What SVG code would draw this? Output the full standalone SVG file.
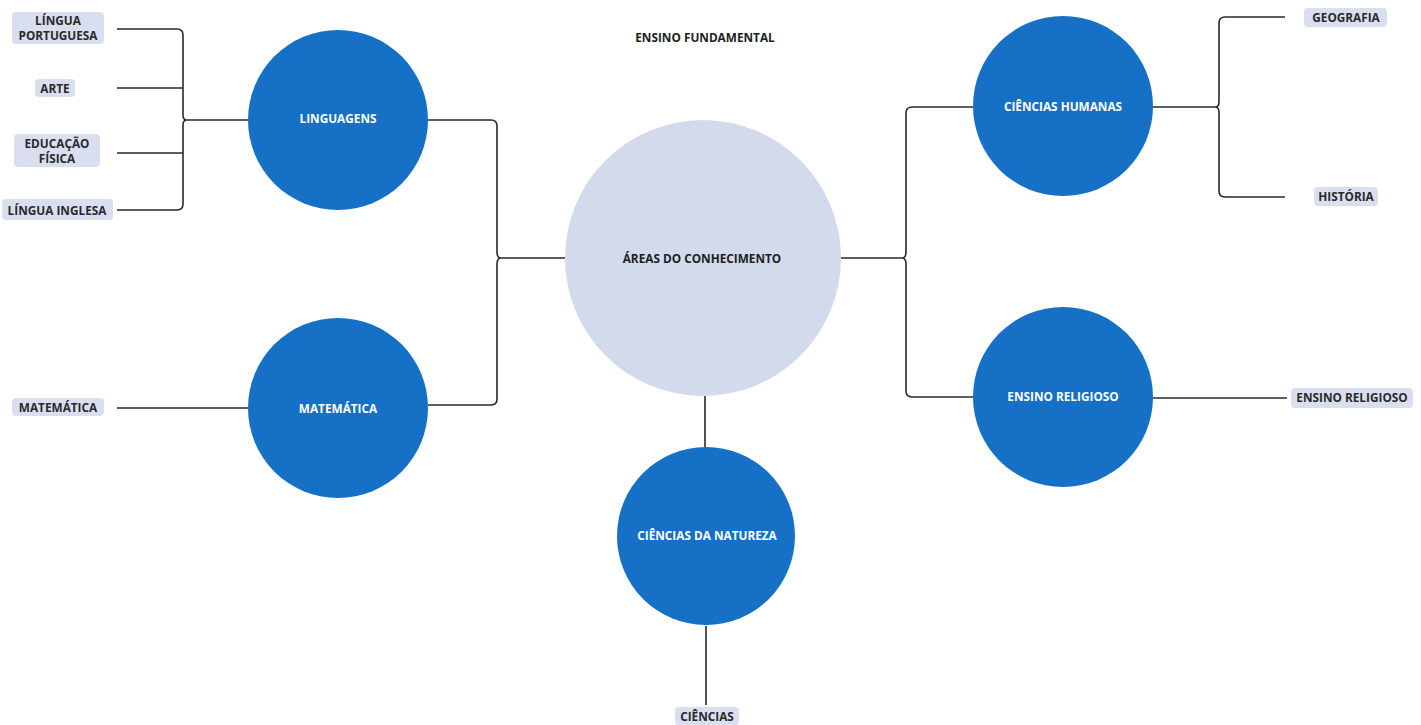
<svg xmlns="http://www.w3.org/2000/svg" width="1421" height="725" viewBox="0 0 1421 725">
<style>
.big{fill:#1570c6}
.ctr{fill:#d3daeb}
.ct{font-family:"Open Sans","Liberation Sans",sans-serif;font-weight:700;font-size:11.8px;fill:#ffffff;text-anchor:middle;dominant-baseline:central}
.cd{font-family:"Open Sans","Liberation Sans",sans-serif;font-weight:700;font-size:11.8px;fill:#1e1e1e;text-anchor:middle;dominant-baseline:central}
.lb{fill:#dadff0}
.lt{font-family:"Open Sans","Liberation Sans",sans-serif;font-weight:700;font-size:11.8px;fill:#2a2a2a;text-anchor:middle;dominant-baseline:central}
.ln{fill:none;stroke:#2a2a2a;stroke-width:1.6}
</style>
<rect width="1421" height="725" fill="#ffffff"/>
<g id="connectors">
<path class="ln" d="M565 258 H501 M428 120 H491 Q497 120 497 126 V252 Q497 258 501 258 Q497 258 497 264 V399 Q497 405 491 405 H428"/>
<path class="ln" d="M841 258 H902 Q906 258 906 252 V113 Q906 107 912 107 H973 M902 258 Q906 258 906 264 V391 Q906 397 912 397 H973"/>
<path class="ln" d="M248 120 H187 M117 29 H177 Q183 29 183 35 V115 Q183 120 187 120 Q183 120 183 125 V204 Q183 210 177 210 H117 M117 88 H183 M117 153 H183"/>
<path class="ln" d="M117 408 H248"/>
<path class="ln" d="M1153 107 H1215 M1285 17 H1225 Q1219 17 1219 23 V102 Q1219 107 1215 107 Q1219 107 1219 112 V191 Q1219 197 1225 197 H1285"/>
<path class="ln" d="M1153 398 H1287"/>
<path class="ln" d="M705 396 V447 M706 626 V705"/>
</g>
<g id="title"><text class="cd" x="705" y="37">ENSINO FUNDAMENTAL</text></g>
<g id="areas"><circle class="ctr" cx="703" cy="258" r="138"/><text class="cd" x="702" y="258">ÁREAS DO CONHECIMENTO</text></g>
<g id="linguagens"><circle class="big" cx="338" cy="120" r="90"/><text class="ct" x="338" y="118">LINGUAGENS</text></g>
<g id="matematica"><circle class="big" cx="338" cy="408" r="90"/><text class="ct" x="338" y="408">MATEMÁTICA</text></g>
<g id="humanas"><circle class="big" cx="1063" cy="106" r="90"/><text class="ct" x="1063" y="106">CIÊNCIAS HUMANAS</text></g>
<g id="religioso"><circle class="big" cx="1063" cy="397" r="90"/><text class="ct" x="1063" y="396">ENSINO RELIGIOSO</text></g>
<g id="natureza"><circle class="big" cx="706" cy="536" r="89"/><text class="ct" x="707" y="535">CIÊNCIAS DA NATUREZA</text></g>
<g id="l-portuguesa"><rect class="lb" x="12" y="12" width="92" height="32" rx="4"/><text class="lt" x="58" y="20">LÍNGUA</text><text class="lt" x="58" y="35">PORTUGUESA</text></g>
<g id="l-arte"><rect class="lb" x="35" y="79" width="40" height="18" rx="4"/><text class="lt" x="55" y="88">ARTE</text></g>
<g id="l-edfis"><rect class="lb" x="14" y="134" width="86" height="33" rx="4"/><text class="lt" x="57" y="143">EDUCAÇÃO</text><text class="lt" x="57" y="158">FÍSICA</text></g>
<g id="l-inglesa"><rect class="lb" x="2" y="199" width="111" height="21" rx="4"/><text class="lt" x="57" y="210">LÍNGUA INGLESA</text></g>
<g id="l-matematica"><rect class="lb" x="12" y="398" width="92" height="18" rx="4"/><text class="lt" x="58" y="407">MATEMÁTICA</text></g>
<g id="l-geografia"><rect class="lb" x="1304" y="8" width="83" height="19" rx="4"/><text class="lt" x="1346" y="17">GEOGRAFIA</text></g>
<g id="l-historia"><rect class="lb" x="1314" y="187" width="64" height="19" rx="4"/><text class="lt" x="1346" y="196">HISTÓRIA</text></g>
<g id="l-religioso"><rect class="lb" x="1291" y="388" width="122" height="20" rx="4"/><text class="lt" x="1352" y="397">ENSINO RELIGIOSO</text></g>
<g id="l-ciencias"><rect class="lb" x="675" y="707" width="64" height="18" rx="4"/><text class="lt" x="707" y="716">CIÊNCIAS</text></g>
</svg>
